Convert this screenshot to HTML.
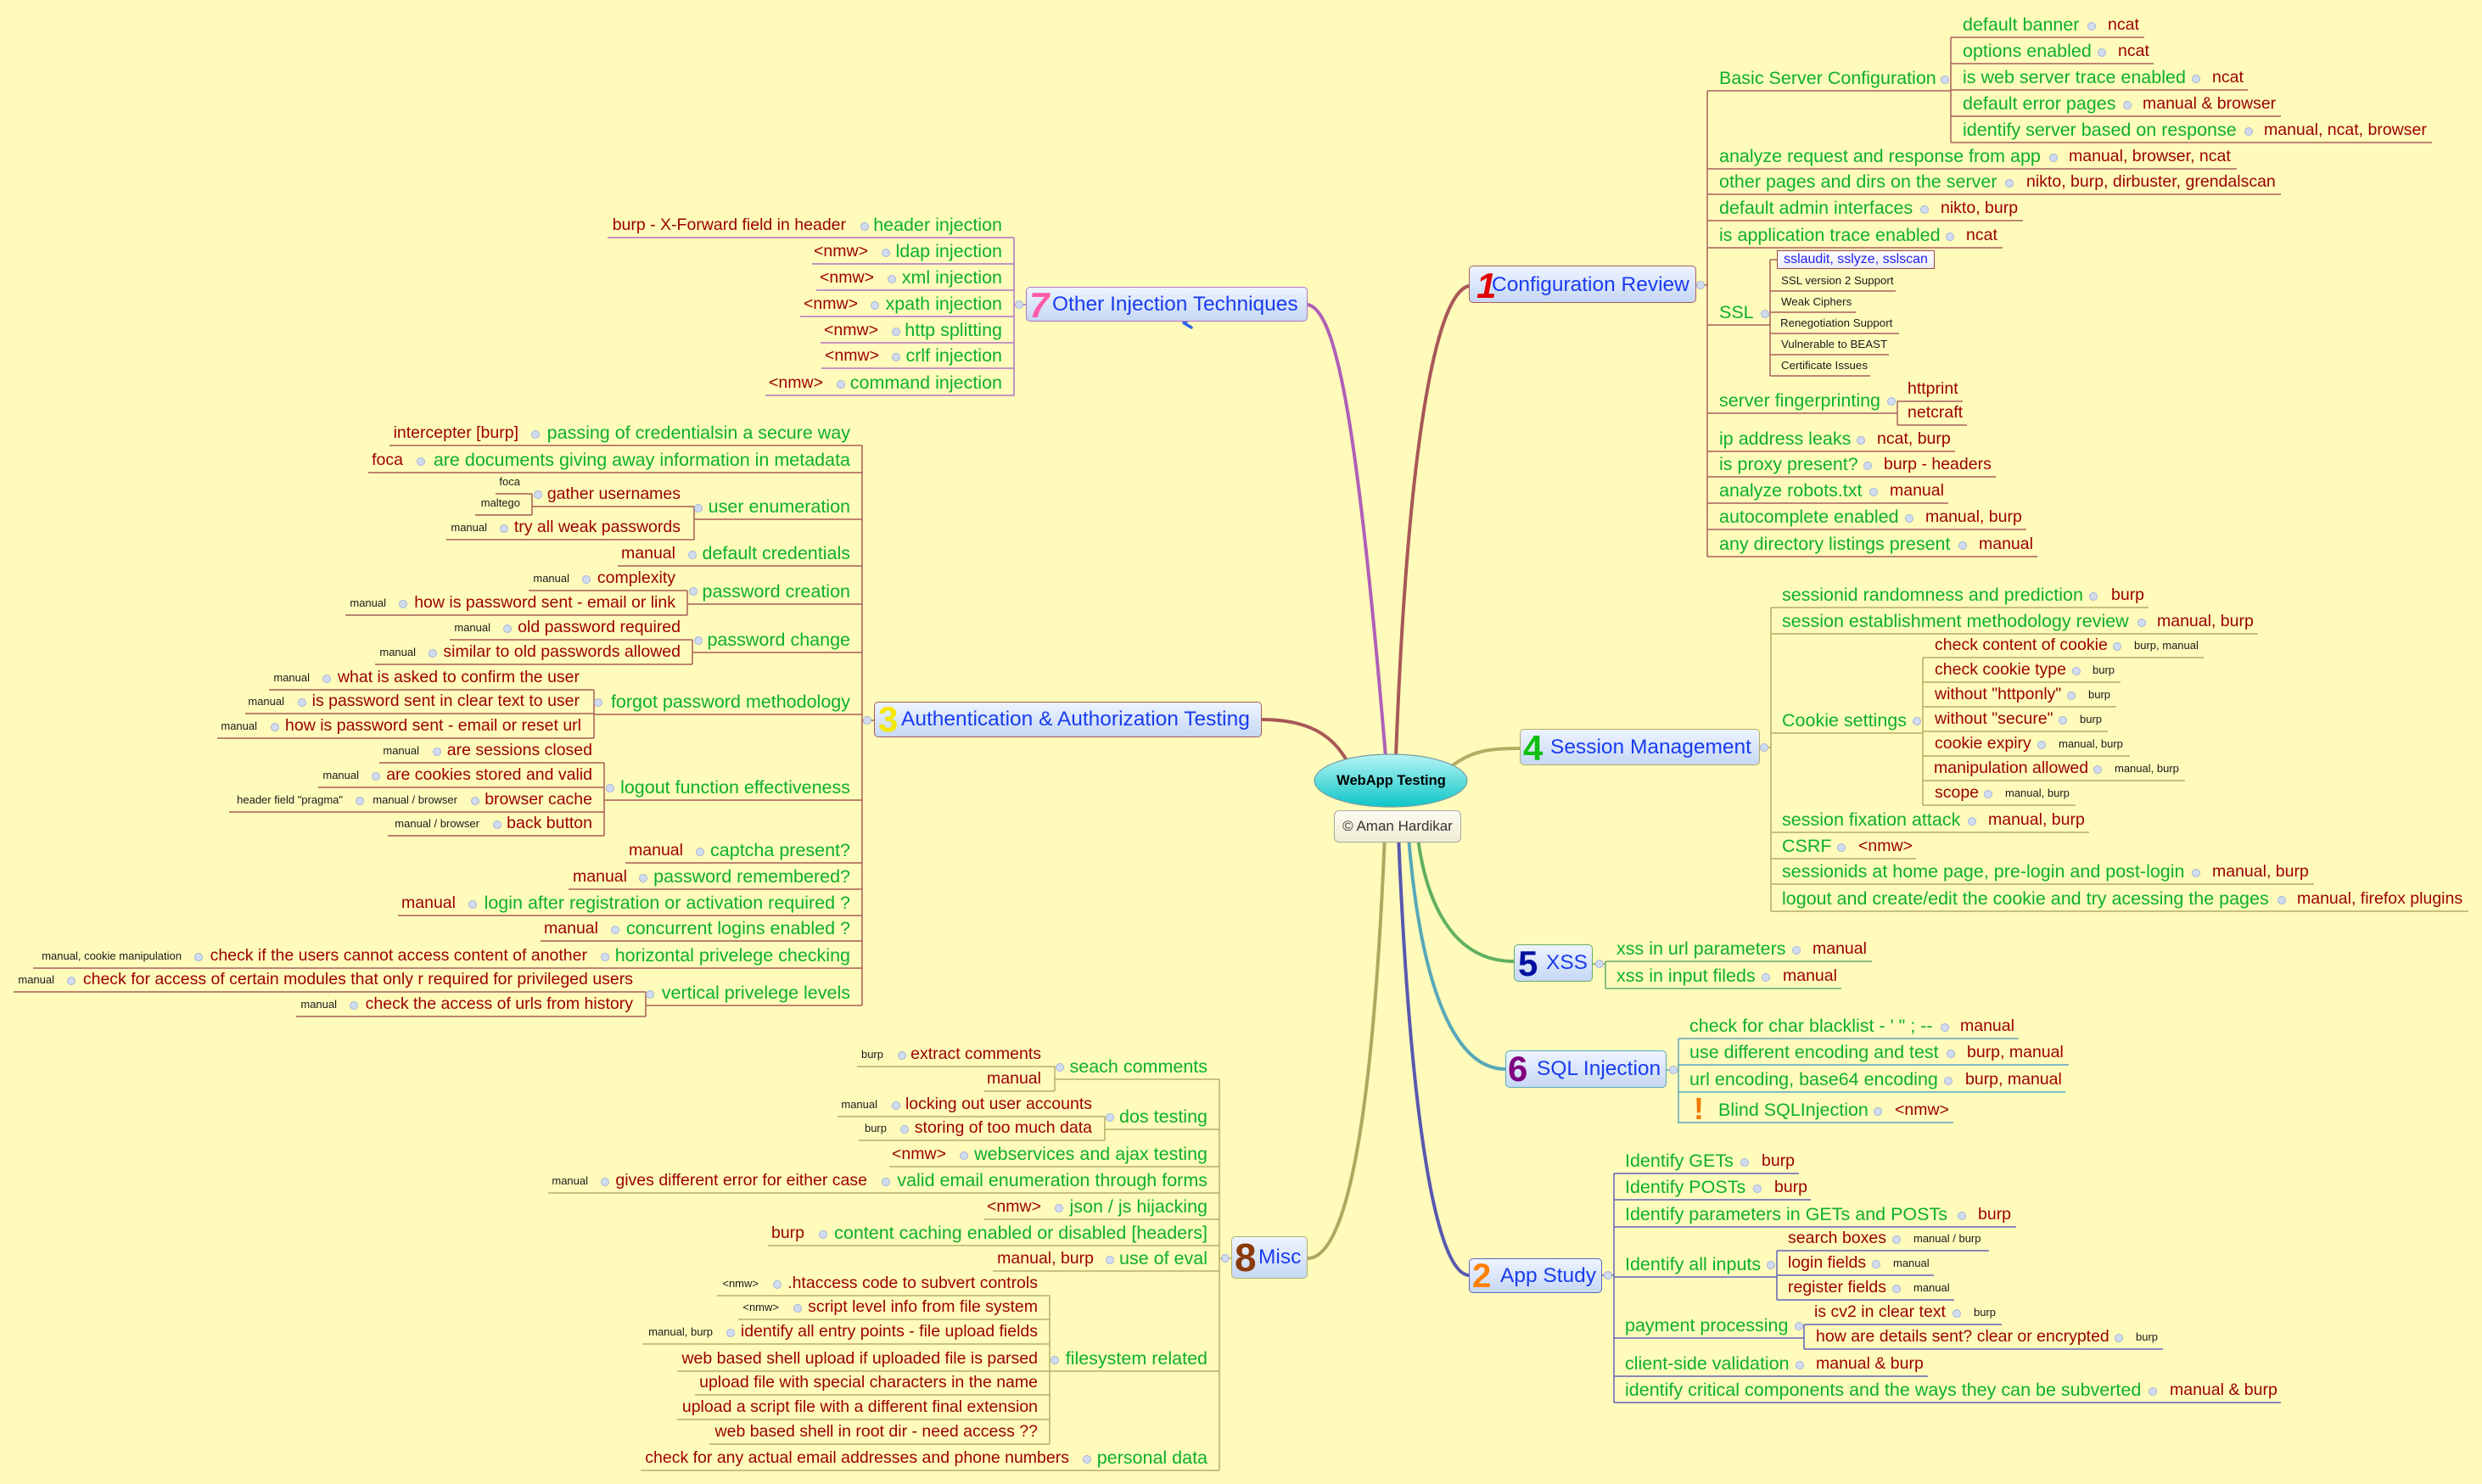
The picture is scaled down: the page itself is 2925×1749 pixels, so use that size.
<!DOCTYPE html>
<html><head><meta charset="utf-8"><title>WebApp Testing</title>
<style>
html,body{margin:0;padding:0}
body{width:2925px;height:1749px;background:#fffbbb;position:relative;overflow:hidden;font-family:"Liberation Sans",Arial,sans-serif}
svg{position:absolute;left:0;top:0}
p{position:absolute;margin:0;white-space:nowrap;line-height:24px}
.g{color:#0db02b;font-size:21.5px;margin-top:1px}
.r{color:#9b0000;font-size:19.5px;margin-top:1px}
.k{color:#1a1a1a;font-size:13px;line-height:16px}
.s{color:#1a1a1a;font-size:13.3px;line-height:16px}
.bx{position:absolute;box-sizing:border-box;border:1.5px solid;border-radius:5px;background:linear-gradient(#eef4ff,#c6d8f4)}
.n{font-weight:bold;font-size:42px;line-height:42px}
.ti{color:#1a3cf0;font-size:24.5px;line-height:30px}
</style></head><body>
<svg width="2925" height="1749" viewBox="0 0 2925 1749">
<defs>
<linearGradient id="eg" x1="0" y1="0" x2="0" y2="1"><stop offset="0" stop-color="#b8f4f4"/><stop offset="1" stop-color="#0cc6c8"/></linearGradient>
</defs>
<g fill="none" stroke-linecap="round" stroke-width="4">
<path stroke="#a85858" d="M1731 337C1695 345 1660 500 1645 892"/>
<path stroke="#b060b8" d="M1541 359C1575 365 1600 500 1633 892"/>
<path stroke="#a85858" d="M1487 848C1540 848 1570 865 1588 898"/>
<path stroke="#b4ad62" d="M1712 902C1735 885 1755 882 1791 882"/>
<path stroke="#60b060" d="M1668 958C1675 1060 1710 1133 1784 1133"/>
<path stroke="#58a8b8" d="M1658 958C1670 1150 1710 1260 1774 1260"/>
<path stroke="#5858b0" d="M1647 958C1660 1300 1690 1500 1731 1503"/>
<path stroke="#b0a860" d="M1633 958C1620 1300 1590 1483 1541 1483"/>
</g>
<g fill="none" stroke-width="1.5">
<path stroke="#a8605c" d="M1999 336H2012M2012 107V656M2012 107H2299M2299 44V168M2299 44H2527M2299 75H2538M2299 106H2649M2299 137H2688M2299 168H2866M2012 199H2636M2012 229H2688M2012 260H2384M2012 292H2360M2012 383H2086M2086 306V443M2086 306H2094M2086 343H2234M2086 368H2187M2086 393H2238M2086 418H2226M2086 443H2204M2012 487H2236M2236 473V501M2236 473H2313M2236 501H2318M2012 532H2304M2012 562H2352M2012 593H2296M2012 624H2388M2012 656H2401"/>
<path stroke="#b4ad66" d="M2074 881H2087M2087 716V1074M2087 716H2532M2087 747H2661M2087 864H2266M2266 775V949M2266 775H2597M2266 804H2499M2266 833H2494M2266 862H2484M2266 891H2510M2266 920H2575M2266 949H2446M2087 981H2462M2087 1012H2258M2087 1042H2727M2087 1074H2909"/>
<path stroke="#6aaa6a" d="M1877 1136H1892M1892 1133V1165M1892 1133H2206M1892 1165H2170"/>
<path stroke="#5aa8bf" d="M1964 1261H1978M1978 1224V1324M1978 1224H2379M1978 1255H2438M1978 1287H2434M1978 1323H2302"/>
<path stroke="#6262bc" d="M1888 1503H1902M1902 1383V1653M1902 1383H2120M1902 1414H2134M1902 1446H2376M1902 1505H2094M2094 1474V1532M2094 1474H2344M2094 1503H2279M2094 1532H2303M1902 1577H2126M2126 1561V1590M2126 1561H2359M2126 1590H2549M1902 1622H2272M1902 1653H2688"/>
<path stroke="#b473c8" d="M1209 359H1195M1195 280V466M716 280H1195M957 311H1195M962 342H1195M943 373H1195M967 404H1195M968 434H1195M902 466H1195"/>
<path stroke="#a85c58" d="M1030 849H1016M1016 525V1185M459 525H1016M434 557H1016M818 612H1016M818 597V636M627 597H818M526 636H818M627 582V607M584 582H627M560 607H627M728 667H1016M810 712H1016M810 696V725M623 696H810M407 725H810M816 769H1016M816 754V783M530 754H816M442 783H816M700 842H1016M700 813V870M317 813H700M289 841H700M256 870H700M712 943H1016M712 899V985M447 899H712M375 928H712M270 957H712M457 985H712M737 1017H1016M670 1048H1016M469 1079H1016M637 1109H1016M39 1141H1016M761 1185H1016M761 1169V1198M16 1169H761M349 1198H761"/>
<path stroke="#b5b06a" d="M1451 1483H1437M1437 1272V1733M1243 1272H1437M1243 1257V1286M1010 1257H1243M1160 1286H1243M1302 1331H1437M1302 1316V1344M987 1316H1302M1012 1344H1302M1048 1375H1437M646 1406H1437M1160 1437H1437M905 1468H1437M1170 1498H1437M1237 1616H1437M1237 1527V1702M845 1527H1237M870 1555H1237M757 1584H1237M798 1616H1237M819 1644H1237M798 1673H1237M836 1702H1237M755 1733H1437"/>
</g>
<ellipse cx="1639" cy="920" rx="90" ry="31" fill="url(#eg)" stroke="#7a9ea4" stroke-width="1.2"/>
<polyline points="1404,375 1395,380.5 1404,386" fill="none" stroke="#2a66e8" stroke-width="3.5" stroke-linejoin="round" stroke-linecap="round"/>
<g fill="#d2dcf0" stroke="#a4b4d6" stroke-width="1">
<circle cx="2004" cy="336" r="4.5"/><circle cx="2292" cy="94" r="4.5"/><circle cx="2465" cy="31" r="4.5"/><circle cx="2477" cy="62" r="4.5"/><circle cx="2588" cy="93" r="4.5"/><circle cx="2507" cy="124" r="4.5"/><circle cx="2650" cy="155" r="4.5"/><circle cx="2420" cy="186" r="4.5"/><circle cx="2368" cy="216" r="4.5"/><circle cx="2268" cy="247" r="4.5"/><circle cx="2298" cy="279" r="4.5"/><circle cx="2080" cy="370" r="4.5"/><circle cx="2229" cy="473" r="4.5"/><circle cx="2193" cy="519" r="4.5"/><circle cx="2201" cy="549" r="4.5"/><circle cx="2208" cy="580" r="4.5"/><circle cx="2250" cy="611" r="4.5"/><circle cx="2313" cy="643" r="4.5"/>
<circle cx="2079" cy="881" r="4.5"/><circle cx="2467" cy="703" r="4.5"/><circle cx="2524" cy="734" r="4.5"/><circle cx="2259" cy="850" r="4.5"/><circle cx="2495" cy="762" r="4.5"/><circle cx="2447" cy="791" r="4.5"/><circle cx="2441" cy="820" r="4.5"/><circle cx="2431" cy="849" r="4.5"/><circle cx="2406" cy="878" r="4.5"/><circle cx="2472" cy="907" r="4.5"/><circle cx="2343" cy="936" r="4.5"/><circle cx="2324" cy="968" r="4.5"/><circle cx="2170" cy="999" r="4.5"/><circle cx="2588" cy="1029" r="4.5"/><circle cx="2689" cy="1061" r="4.5"/>
<circle cx="1885" cy="1136" r="4.5"/><circle cx="2117" cy="1120" r="4.5"/><circle cx="2081" cy="1152" r="4.5"/>
<circle cx="1972" cy="1261" r="4.5"/><circle cx="2292" cy="1211" r="4.5"/><circle cx="2299" cy="1242" r="4.5"/><circle cx="2296" cy="1274" r="4.5"/><circle cx="2213" cy="1310" r="4.5"/>
<circle cx="1895" cy="1503" r="4.5"/><circle cx="2056" cy="1370" r="4.5"/><circle cx="2071" cy="1401" r="4.5"/><circle cx="2312" cy="1433" r="4.5"/><circle cx="2087" cy="1491" r="4.5"/><circle cx="2235" cy="1461" r="4.5"/><circle cx="2211" cy="1490" r="4.5"/><circle cx="2235" cy="1519" r="4.5"/><circle cx="2120" cy="1563" r="4.5"/><circle cx="2306" cy="1548" r="4.5"/><circle cx="2497" cy="1577" r="4.5"/><circle cx="2121" cy="1609" r="4.5"/><circle cx="2537" cy="1640" r="4.5"/>
<circle cx="1019" cy="267" r="4.5"/><circle cx="1044" cy="298" r="4.5"/><circle cx="1051" cy="329" r="4.5"/><circle cx="1031" cy="360" r="4.5"/><circle cx="1056" cy="391" r="4.5"/><circle cx="1056" cy="421" r="4.5"/><circle cx="991" cy="453" r="4.5"/><circle cx="1201" cy="359" r="4.5"/>
<circle cx="631" cy="512" r="4.5"/><circle cx="496" cy="544" r="4.5"/><circle cx="823" cy="599" r="4.5"/><circle cx="634" cy="583" r="4.5"/><circle cx="594" cy="623" r="4.5"/><circle cx="816" cy="654" r="4.5"/><circle cx="817" cy="697" r="4.5"/><circle cx="691" cy="683" r="4.5"/><circle cx="475" cy="712" r="4.5"/><circle cx="823" cy="755" r="4.5"/><circle cx="598" cy="741" r="4.5"/><circle cx="510" cy="770" r="4.5"/><circle cx="705" cy="828" r="4.5"/><circle cx="385" cy="800" r="4.5"/><circle cx="356" cy="828" r="4.5"/><circle cx="324" cy="857" r="4.5"/><circle cx="719" cy="929" r="4.5"/><circle cx="515" cy="886" r="4.5"/><circle cx="443" cy="915" r="4.5"/><circle cx="560" cy="944" r="4.5"/><circle cx="424" cy="944" r="4.5"/><circle cx="586" cy="972" r="4.5"/><circle cx="825" cy="1004" r="4.5"/><circle cx="758" cy="1035" r="4.5"/><circle cx="557" cy="1066" r="4.5"/><circle cx="725" cy="1096" r="4.5"/><circle cx="713" cy="1128" r="4.5"/><circle cx="234" cy="1128" r="4.5"/><circle cx="766" cy="1172" r="4.5"/><circle cx="84" cy="1156" r="4.5"/><circle cx="417" cy="1185" r="4.5"/><circle cx="1022" cy="849" r="4.5"/>
<circle cx="1249" cy="1258" r="4.5"/><circle cx="1063" cy="1244" r="4.5"/><circle cx="1308" cy="1317" r="4.5"/><circle cx="1056" cy="1303" r="4.5"/><circle cx="1066" cy="1331" r="4.5"/><circle cx="1136" cy="1362" r="4.5"/><circle cx="1044" cy="1393" r="4.5"/><circle cx="713" cy="1393" r="4.5"/><circle cx="1248" cy="1424" r="4.5"/><circle cx="970" cy="1455" r="4.5"/><circle cx="1308" cy="1485" r="4.5"/><circle cx="1243" cy="1603" r="4.5"/><circle cx="916" cy="1514" r="4.5"/><circle cx="940" cy="1542" r="4.5"/><circle cx="861" cy="1571" r="4.5"/><circle cx="1281" cy="1720" r="4.5"/><circle cx="1444" cy="1483" r="4.5"/>
</g>
</svg>

<!-- central node -->
<p style="left:1549px;top:908px;width:181px;text-align:center;font-weight:bold;font-size:16.5px;color:#000">WebApp Testing</p>
<div style="position:absolute;left:1572px;top:955px;width:150px;height:38px;box-sizing:border-box;border:1.2px solid #a8a8a0;border-radius:6px;background:linear-gradient(#fdfcf2,#efebd2)"></div>
<p style="left:1572px;top:962px;width:150px;text-align:center;font-size:17px;color:#333">© Aman Hardikar</p>

<!-- main topic boxes -->
<div class="bx" style="left:1731px;top:313px;width:268px;height:44px;border-color:#a8605c"></div>
<p class="n" style="left:1740px;top:316px;color:#e00000;font-style:italic">1</p>
<p class="ti" style="left:1758px;top:321px">Configuration Review</p>

<div class="bx" style="left:1209px;top:338px;width:332px;height:41px;border-color:#b473c8"></div>
<p class="n" style="left:1213px;top:339px;color:#ff5aa8;font-style:italic">7</p>
<p class="ti" style="left:1240px;top:344px">Other Injection Techniques</p>

<div class="bx" style="left:1030px;top:827px;width:457px;height:42px;border-color:#a85c58"></div>
<p class="n" style="left:1035px;top:827px;color:#f4e800">3</p>
<p class="ti" style="left:1062px;top:833px">Authentication &amp; Authorization Testing</p>

<div class="bx" style="left:1791px;top:859px;width:283px;height:43px;border-color:#b4ad66"></div>
<p class="n" style="left:1795px;top:861px;color:#10c010">4</p>
<p class="ti" style="left:1827px;top:866px">Session Management</p>

<div class="bx" style="left:1784px;top:1113px;width:93px;height:44px;border-color:#6aaa6a"></div>
<p class="n" style="left:1789px;top:1115px;color:#0010a0">5</p>
<p class="ti" style="left:1822px;top:1120px">XSS</p>

<div class="bx" style="left:1774px;top:1238px;width:190px;height:44px;border-color:#5aa8bf"></div>
<p class="n" style="left:1777px;top:1239px;color:#800080">6</p>
<p class="ti" style="left:1811px;top:1245px">SQL Injection</p>

<div class="bx" style="left:1731px;top:1483px;width:157px;height:41px;border-color:#6262bc"></div>
<p class="n" style="left:1735px;top:1484px;color:#ff8000;font-size:40px;line-height:40px">2</p>
<p class="ti" style="left:1768px;top:1489px">App Study</p>

<div class="bx" style="left:1451px;top:1457px;width:90px;height:50px;border-color:#b5b06a"></div>
<p class="n" style="left:1455px;top:1459px;color:#8b3a0a;font-size:46px;line-height:46px">8</p>
<p class="ti" style="left:1483px;top:1467px">Misc</p>

<!-- 1 Configuration Review -->
<p class="g" style="left:2026px;top:79px">Basic Server Configuration</p>
<p class="g" style="left:2313px;top:16px">default banner</p><p class="r" style="left:2484px;top:16px">ncat</p>
<p class="g" style="left:2313px;top:47px">options enabled</p><p class="r" style="left:2496px;top:47px">ncat</p>
<p class="g" style="left:2313px;top:78px">is web server trace enabled</p><p class="r" style="left:2607px;top:78px">ncat</p>
<p class="g" style="left:2313px;top:109px">default error pages</p><p class="r" style="left:2525px;top:109px">manual &amp; browser</p>
<p class="g" style="left:2313px;top:140px">identify server based on response</p><p class="r" style="left:2668px;top:140px">manual, ncat, browser</p>
<p class="g" style="left:2026px;top:171px">analyze request and response from app</p><p class="r" style="left:2438px;top:171px">manual, browser, ncat</p>
<p class="g" style="left:2026px;top:201px">other pages and dirs on the server</p><p class="r" style="left:2388px;top:201px">nikto, burp, dirbuster, grendalscan</p>
<p class="g" style="left:2026px;top:232px">default admin interfaces</p><p class="r" style="left:2287px;top:232px">nikto, burp</p>
<p class="g" style="left:2026px;top:264px">is application trace enabled</p><p class="r" style="left:2317px;top:264px">ncat</p>
<p class="g" style="left:2026px;top:355px">SSL</p>
<div style="position:absolute;left:2094px;top:295px;width:186px;height:22px;box-sizing:border-box;border:1px solid #a04848;background:linear-gradient(#ffffff,#ececf4)"></div>
<p style="left:2094px;top:295px;width:186px;text-align:center;line-height:22px;font-size:16px;color:#2020f0">sslaudit, sslyze, sslscan</p>
<p class="s" style="left:2099px;top:323px">SSL version 2 Support</p>
<p class="s" style="left:2099px;top:348px">Weak Ciphers</p>
<p class="s" style="left:2098px;top:373px">Renegotiation Support</p>
<p class="s" style="left:2099px;top:398px">Vulnerable to BEAST</p>
<p class="s" style="left:2099px;top:423px">Certificate Issues</p>
<p class="g" style="left:2026px;top:459px">server fingerprinting</p>
<p class="r" style="left:2248px;top:445px">httprint</p>
<p class="r" style="left:2248px;top:473px">netcraft</p>
<p class="g" style="left:2026px;top:504px">ip address leaks</p><p class="r" style="left:2212px;top:504px">ncat, burp</p>
<p class="g" style="left:2026px;top:534px">is proxy present?</p><p class="r" style="left:2220px;top:534px">burp - headers</p>
<p class="g" style="left:2026px;top:565px">analyze robots.txt</p><p class="r" style="left:2227px;top:565px">manual</p>
<p class="g" style="left:2026px;top:596px">autocomplete enabled</p><p class="r" style="left:2269px;top:596px">manual, burp</p>
<p class="g" style="left:2026px;top:628px">any directory listings present</p><p class="r" style="left:2332px;top:628px">manual</p>

<!-- 4 Session Management -->
<p class="g" style="left:2100px;top:688px">sessionid randomness and prediction</p><p class="r" style="left:2488px;top:688px">burp</p>
<p class="g" style="left:2100px;top:719px">session establishment methodology review</p><p class="r" style="left:2542px;top:719px">manual, burp</p>
<p class="g" style="left:2100px;top:836px">Cookie settings</p>
<p class="r" style="left:2280px;top:747px">check content of cookie</p><p class="k" style="left:2515px;top:753px">burp, manual</p>
<p class="r" style="left:2280px;top:776px">check cookie type</p><p class="k" style="left:2466px;top:782px">burp</p>
<p class="r" style="left:2280px;top:805px">without "httponly"</p><p class="k" style="left:2461px;top:811px">burp</p>
<p class="r" style="left:2280px;top:834px">without "secure"</p><p class="k" style="left:2451px;top:840px">burp</p>
<p class="r" style="left:2280px;top:863px">cookie expiry</p><p class="k" style="left:2426px;top:869px">manual, burp</p>
<p class="r" style="left:2279px;top:892px">manipulation allowed</p><p class="k" style="left:2492px;top:898px">manual, burp</p>
<p class="r" style="left:2280px;top:921px">scope</p><p class="k" style="left:2363px;top:927px">manual, burp</p>
<p class="g" style="left:2100px;top:953px">session fixation attack</p><p class="r" style="left:2343px;top:953px">manual, burp</p>
<p class="g" style="left:2100px;top:984px">CSRF</p><p class="r" style="left:2190px;top:984px">&lt;nmw&gt;</p>
<p class="g" style="left:2100px;top:1014px">sessionids at home page, pre-login and post-login</p><p class="r" style="left:2607px;top:1014px">manual, burp</p>
<p class="g" style="left:2100px;top:1046px">logout and create/edit the cookie and try acessing the pages</p><p class="r" style="left:2707px;top:1046px">manual, firefox plugins</p>

<!-- 5 XSS -->
<p class="g" style="left:1905px;top:1105px">xss in url parameters</p><p class="r" style="left:2136px;top:1105px">manual</p>
<p class="g" style="left:1905px;top:1137px">xss in input fileds</p><p class="r" style="left:2101px;top:1137px">manual</p>

<!-- 6 SQL Injection -->
<p class="g" style="left:1991px;top:1196px">check for char blacklist - ' " ; --</p><p class="r" style="left:2310px;top:1196px">manual</p>
<p class="g" style="left:1991px;top:1227px">use different encoding and test</p><p class="r" style="left:2318px;top:1227px">burp, manual</p>
<p class="g" style="left:1991px;top:1259px">url encoding, base64 encoding</p><p class="r" style="left:2316px;top:1259px">burp, manual</p>
<p style="left:1996px;top:1289px;font-size:36px;line-height:36px;font-weight:bold;color:#f07800">!</p>
<p class="g" style="left:2025px;top:1295px">Blind SQLInjection</p><p class="r" style="left:2233px;top:1295px">&lt;nmw&gt;</p>

<!-- 2 App Study -->
<p class="g" style="left:1915px;top:1355px">Identify GETs</p><p class="r" style="left:2076px;top:1355px">burp</p>
<p class="g" style="left:1915px;top:1386px">Identify POSTs</p><p class="r" style="left:2091px;top:1386px">burp</p>
<p class="g" style="left:1915px;top:1418px">Identify parameters in GETs and POSTs</p><p class="r" style="left:2331px;top:1418px">burp</p>
<p class="g" style="left:1915px;top:1477px">Identify all inputs</p>
<p class="r" style="left:2107px;top:1446px">search boxes</p><p class="k" style="left:2255px;top:1452px">manual / burp</p>
<p class="r" style="left:2107px;top:1475px">login fields</p><p class="k" style="left:2231px;top:1481px">manual</p>
<p class="r" style="left:2107px;top:1504px">register fields</p><p class="k" style="left:2255px;top:1510px">manual</p>
<p class="g" style="left:1915px;top:1549px">payment processing</p>
<p class="r" style="left:2138px;top:1533px">is cv2 in clear text</p><p class="k" style="left:2326px;top:1539px">burp</p>
<p class="r" style="left:2140px;top:1562px">how are details sent? clear or encrypted</p><p class="k" style="left:2517px;top:1568px">burp</p>
<p class="g" style="left:1915px;top:1594px">client-side validation</p><p class="r" style="left:2140px;top:1594px">manual &amp; burp</p>
<p class="g" style="left:1915px;top:1625px">identify critical components and the ways they can be subverted</p><p class="r" style="left:2557px;top:1625px">manual &amp; burp</p>

<!-- 7 Other Injection Techniques -->
<p class="g" style="right:1744px;top:252px">header injection</p><p class="r" style="right:1928px;top:252px">burp - X-Forward field in header</p>
<p class="g" style="right:1744px;top:283px">ldap injection</p><p class="r" style="right:1902px;top:283px">&lt;nmw&gt;</p>
<p class="g" style="right:1744px;top:314px">xml injection</p><p class="r" style="right:1895px;top:314px">&lt;nmw&gt;</p>
<p class="g" style="right:1744px;top:345px">xpath injection</p><p class="r" style="right:1914px;top:345px">&lt;nmw&gt;</p>
<p class="g" style="right:1744px;top:376px">http splitting</p><p class="r" style="right:1890px;top:376px">&lt;nmw&gt;</p>
<p class="g" style="right:1744px;top:406px">crlf injection</p><p class="r" style="right:1889px;top:406px">&lt;nmw&gt;</p>
<p class="g" style="right:1744px;top:438px">command injection</p><p class="r" style="right:1955px;top:438px">&lt;nmw&gt;</p>

<!-- 3 Authentication & Authorization Testing -->
<p class="g" style="right:1923px;top:497px">passing of credentialsin a secure way</p>
<p class="r" style="right:2314px;top:497px">intercepter [burp]</p>
<p class="g" style="right:1923px;top:529px">are documents giving away information in metadata</p>
<p class="r" style="right:2450px;top:529px">foca</p>
<p class="g" style="right:1923px;top:584px">user enumeration</p>
<p class="r" style="right:2123px;top:569px">gather usernames</p>
<p class="k" style="right:2312px;top:560px">foca</p>
<p class="k" style="right:2312px;top:585px">maltego</p>
<p class="r" style="right:2123px;top:608px">try all weak passwords</p>
<p class="k" style="right:2351px;top:614px">manual</p>
<p class="g" style="right:1923px;top:639px">default credentials</p>
<p class="r" style="right:2129px;top:639px">manual</p>
<p class="g" style="right:1923px;top:684px">password creation</p>
<p class="r" style="right:2129px;top:668px">complexity</p>
<p class="k" style="right:2254px;top:674px">manual</p>
<p class="r" style="right:2129px;top:697px">how is password sent - email or link</p>
<p class="k" style="right:2470px;top:703px">manual</p>
<p class="g" style="right:1923px;top:741px">password change</p>
<p class="r" style="right:2123px;top:726px">old password required</p>
<p class="k" style="right:2347px;top:732px">manual</p>
<p class="r" style="right:2123px;top:755px">similar to old passwords allowed</p>
<p class="k" style="right:2435px;top:761px">manual</p>
<p class="g" style="right:1923px;top:814px">forgot password methodology</p>
<p class="r" style="right:2242px;top:785px">what is asked to confirm the user</p>
<p class="k" style="right:2560px;top:791px">manual</p>
<p class="r" style="right:2242px;top:813px">is password sent in clear text to user</p>
<p class="k" style="right:2590px;top:819px">manual</p>
<p class="r" style="right:2240px;top:842px">how is password sent - email or reset url</p>
<p class="k" style="right:2622px;top:848px">manual</p>
<p class="g" style="right:1923px;top:915px">logout function effectiveness</p>
<p class="r" style="right:2227px;top:871px">are sessions closed</p>
<p class="k" style="right:2431px;top:877px">manual</p>
<p class="r" style="right:2227px;top:900px">are cookies stored and valid</p>
<p class="k" style="right:2502px;top:906px">manual</p>
<p class="r" style="right:2227px;top:929px">browser cache</p>
<p class="k" style="right:2386px;top:935px">manual / browser</p>
<p class="k" style="right:2521px;top:935px">header field "pragma"</p>
<p class="r" style="right:2227px;top:957px">back button</p>
<p class="k" style="right:2360px;top:963px">manual / browser</p>
<p class="g" style="right:1923px;top:989px">captcha present?</p>
<p class="r" style="right:2120px;top:989px">manual</p>
<p class="g" style="right:1923px;top:1020px">password remembered?</p>
<p class="r" style="right:2186px;top:1020px">manual</p>
<p class="g" style="right:1923px;top:1051px">login after registration or activation required ?</p>
<p class="r" style="right:2388px;top:1051px">manual</p>
<p class="g" style="right:1923px;top:1081px">concurrent logins enabled ?</p>
<p class="r" style="right:2220px;top:1081px">manual</p>
<p class="g" style="right:1923px;top:1113px">horizontal privelege checking</p>
<p class="r" style="right:2233px;top:1113px">check if the users cannot access content of another</p>
<p class="k" style="right:2711px;top:1119px">manual, cookie manipulation</p>
<p class="g" style="right:1923px;top:1157px">vertical privelege levels</p>
<p class="r" style="right:2179px;top:1141px">check for access of certain modules that only r required for privileged users</p>
<p class="k" style="right:2861px;top:1147px">manual</p>
<p class="r" style="right:2179px;top:1170px">check the access of urls from history</p>
<p class="k" style="right:2528px;top:1176px">manual</p>

<!-- 8 Misc -->
<p class="g" style="right:1502px;top:1244px">seach comments</p>
<p class="r" style="right:1698px;top:1229px">extract comments</p>
<p class="k" style="right:1884px;top:1235px">burp</p>
<p class="r" style="right:1698px;top:1258px">manual</p>
<p class="g" style="right:1502px;top:1303px">dos testing</p>
<p class="r" style="right:1638px;top:1288px">locking out user accounts</p>
<p class="k" style="right:1891px;top:1294px">manual</p>
<p class="r" style="right:1638px;top:1316px">storing of too much data</p>
<p class="k" style="right:1880px;top:1322px">burp</p>
<p class="g" style="right:1502px;top:1347px">webservices and ajax testing</p>
<p class="r" style="right:1810px;top:1347px">&lt;nmw&gt;</p>
<p class="g" style="right:1502px;top:1378px">valid email enumeration through forms</p>
<p class="r" style="right:1903px;top:1378px">gives different error for either case</p>
<p class="k" style="right:2232px;top:1384px">manual</p>
<p class="g" style="right:1502px;top:1409px">json / js hijacking</p>
<p class="r" style="right:1698px;top:1409px">&lt;nmw&gt;</p>
<p class="g" style="right:1502px;top:1440px">content caching enabled or disabled [headers]</p>
<p class="r" style="right:1977px;top:1440px">burp</p>
<p class="g" style="right:1502px;top:1470px">use of eval</p>
<p class="r" style="right:1636px;top:1470px">manual, burp</p>
<p class="g" style="right:1502px;top:1588px">filesystem related</p>
<p class="r" style="right:1702px;top:1499px">.htaccess code to subvert controls</p>
<p class="k" style="right:2031px;top:1505px">&lt;nmw&gt;</p>
<p class="r" style="right:1702px;top:1527px">script level info from file system</p>
<p class="k" style="right:2007px;top:1533px">&lt;nmw&gt;</p>
<p class="r" style="right:1702px;top:1556px">identify all entry points - file upload fields</p>
<p class="k" style="right:2085px;top:1562px">manual, burp</p>
<p class="r" style="right:1702px;top:1588px">web based shell upload if uploaded file is parsed</p>
<p class="r" style="right:1702px;top:1616px">upload file with special characters in the name</p>
<p class="r" style="right:1702px;top:1645px">upload a script file with a different final extension</p>
<p class="r" style="right:1702px;top:1674px">web based shell in root dir - need access ??</p>
<p class="g" style="right:1502px;top:1705px">personal data</p>
<p class="r" style="right:1665px;top:1705px">check for any actual email addresses and phone numbers</p>
</body></html>
